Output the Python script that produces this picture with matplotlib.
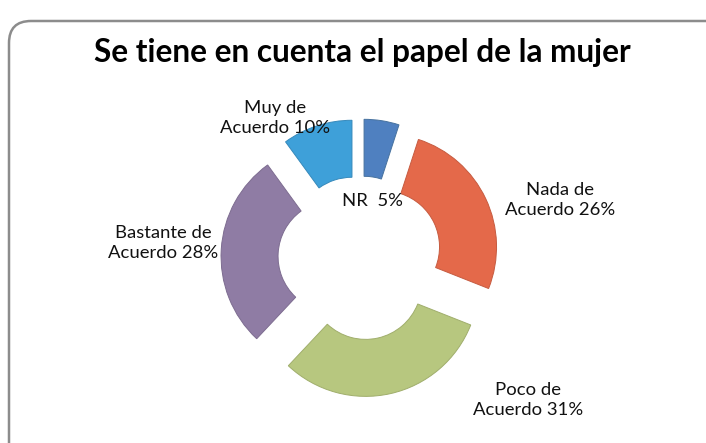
import numpy as np
import matplotlib.pyplot as plt
from matplotlib.patches import FancyBboxPatch

categories = ['NR', 'Nada de\nAcuerdo', 'Poco de\nAcuerdo', 'Bastante de\nAcuerdo', 'Muy de\nAcuerdo']
values = [5, 26, 31, 28, 10]
colors = ['#4f80c0', '#e4694a', '#b7c77f', '#8f7ca4', '#3ea0d9']
edges = ['#47729f', '#c65b40', '#a0ae6c', '#7d6c90', '#3689bb']

# label anchor points, in pixels of the 706x443 picture
label_pos = [(372, 201), (560, 200), (528, 400), (163, 243), (275, 118)]

W, H = 706, 443
fig = plt.figure(figsize=(W / 100, H / 100), dpi=100)
ax = fig.add_axes([0, 0, 1, 1])

# rounded frame
frame = FancyBboxPatch((9, -30), 740, H - 12 + 30 - 9, boxstyle="round,pad=0,rounding_size=22",
                       fc='white', ec='#8c8c8c', lw=1.8, zorder=0)
ax.add_patch(frame)

cx, cy = 360, H - 258
R = 113
off = 26  # explode is in data units here
wedges, _ = ax.pie(values, colors=colors, startangle=90, counterclock=False,
                   radius=R, center=(cx, cy), explode=[off] * len(values),
                   wedgeprops=dict(width=57, linewidth=0.7), frame=True)
for w, e in zip(wedges, edges):
    w.set_edgecolor(e)
    w.set_zorder(2)
ax.set_xlim(0, W)
ax.set_ylim(0, H)
ax.set_aspect('equal')
ax.axis('off')

ax.text(362, H - 52, 'Se tiene en cuenta el papel de la mujer', ha='center', va='center',
        fontsize=22.7, fontweight='bold', family='Lato', color='black')

for cat, v, (x, y) in zip(categories, values, label_pos):
    if cat == 'NR':
        txt = 'NR  %d%%' % v
    else:
        txt = '%s %d%%' % (cat, v)
    ax.text(x, H - y, txt, ha='center', va='center', fontsize=13.3, family='Lato',
            color='#111111', linespacing=1.3, zorder=5)

plt.savefig('out.png', dpi=100)
